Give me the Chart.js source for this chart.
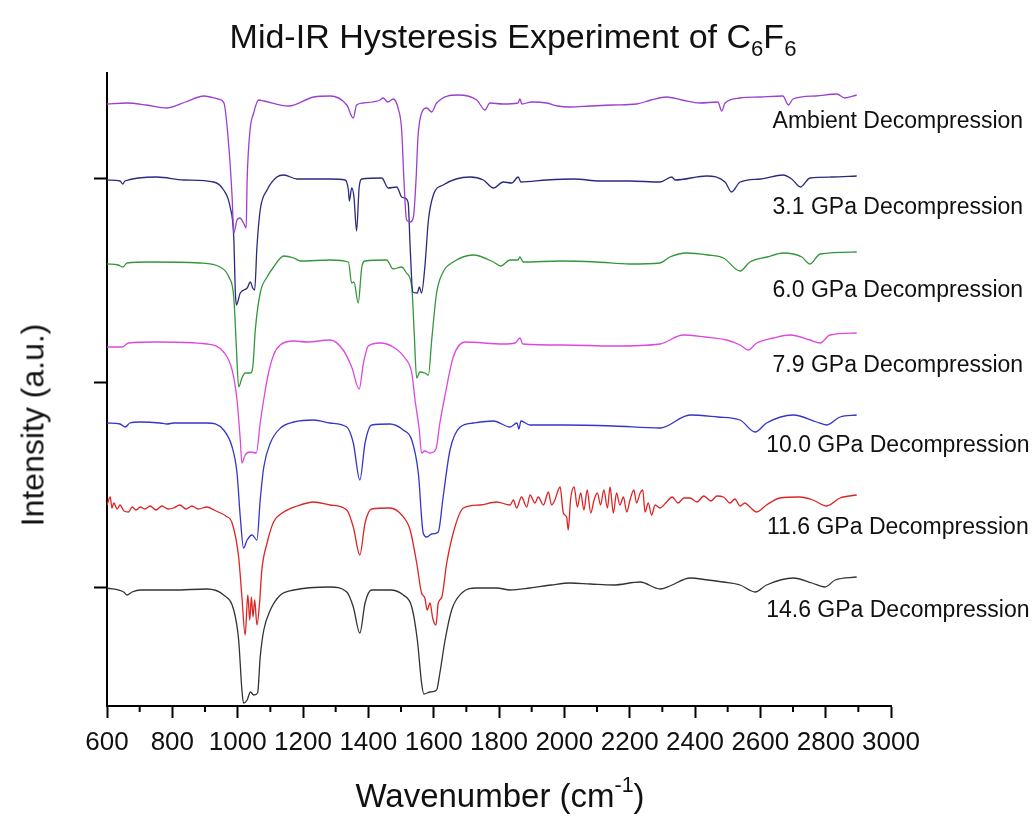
<!DOCTYPE html>
<html>
<head>
<meta charset="utf-8">
<script src="https://cdn.jsdelivr.net/npm/chart.js@4.4.1/dist/chart.umd.min.js"></script>
<style>
  body { margin: 0; background: #fff; }
  #wrap { position: relative; width: 1034px; height: 817px; font-family: 'Liberation Sans', Arial, sans-serif; color: #111; }
  #chart { position: absolute; left: 0; top: 0; }
  .lbl { position: absolute; white-space: nowrap; }
  #title { left: 0; width: 1026px; top: 17px; text-align: center; font-size: 34px; }
  #xtitle { left: 0; width: 1000px; top: 777px; text-align: center; font-size: 33px; }
  #ytitle { left: 33px; top: 425px; font-size: 32px; transform: translate(-50%, -50%) rotate(-90deg); }
  sub { font-size: 65%; vertical-align: -0.35em; line-height: 0; }
  sup { font-size: 65%; vertical-align: 0.7em; line-height: 0; }
</style>
</head>
<body>
<div id="wrap">
  <canvas id="chart" width="1034" height="817"></canvas>
  <div class="lbl" id="title">Mid-IR Hysteresis Experiment of C<sub>6</sub>F<sub>6</sub></div>
  <div class="lbl" id="xtitle">Wavenumber (cm<sup>-1</sup>)</div>
  <div class="lbl" id="ytitle">Intensity (a.u.)</div>
</div>
<script>
//================================ Data (wavenumber cm-1, intensity a.u., spectra stacked) ================

var seriesNames = ['Ambient Decompression', '3.1 GPa Decompression', '6.0 GPa Decompression',
    '7.9 GPa Decompression', '10.0 GPa Decompression', '11.6 GPa Decompression', '14.6 GPa Decompression'];

var ambient = [[600,483],[661,484],[720,482],[784,479],[840,485],[897,491],[940,488],[958,484],[973,440],[983,390],[988,354],[998,367],[1007,369],
    [1018,364],[1026,359],[1029,407],[1038,457],[1049,474],[1064,487],[1080,486],[1156,481],[1233,490],[1283,491],
    [1334,482],[1354,469],[1364,482],[1384,484],[1436,487],[1445,489],[1460,485],[1476,488],[1491,479],[1502,457],
    [1509,407],[1517,367],[1528,365],[1538,370],[1546,407],[1552,450],[1563,474],[1579,479],[1594,475],[1609,484],
    [1675,492],[1732,487],[1757,477],[1772,484],[1812,483],[1858,484],[1864,488],[1870,483],[1900,485],[1946,484],[1980,481],[2017,480],
    [2080,481],[2149,482],[2221,483],[2265,487],[2313,490],[2360,487],[2415,484],[2470,485],[2482,476],[2492,484],[2538,489],[2600,490],[2669,491],[2686,482],
    [2700,488],[2770,491],[2834,493],[2859,489],[2895,492]];

var gpa31 = [[600,407],[640,406],[648,403],[655,406],[753,410],[835,407],[927,405],[957,397],[977,380],[988,350],
    [993,294],[996,282],[1008,294],[1029,299],[1039,305],[1046,299],[1052,297],[1059,340],[1069,377],[1090,397],
    [1120,410],[1141,412],[1182,408],[1283,408],[1329,407],[1339,397],[1342,386],[1349,399],[1356,390],[1364,356],
    [1372,400],[1380,408],[1441,409],[1461,399],[1487,400],[1502,390],[1512,389],[1522,384],[1528,340],[1536,295],
    [1550,294],[1556,300],[1563,294],[1573,320],[1584,367],[1599,392],[1629,402],[1711,410],[1752,407],[1783,399],
    [1813,405],[1839,404],[1859,410],[1867,405],[1946,407],[2030,408],[2109,406],[2200,406],[2293,405],[2329,410],[2339,407],[2436,411],
    [2492,405],[2512,395],[2538,405],[2600,408],[2670,412],[2696,408],[2723,400],[2752,409],[2820,410],[2895,411]];

var gpa60 = [[600,323],[634,322],[649,320],[661,324],[732,325],[885,324],[946,320],[973,310],[988,290],[996,240],
    [1003,200],[1013,209],[1023,214],[1039,214],[1047,222],[1054,257],[1069,294],[1090,310],[1110,320],[1141,331],
    [1172,329],[1192,326],[1283,327],[1339,325],[1349,304],[1356,305],[1369,284],[1380,320],[1390,326],[1456,327],
    [1476,318],[1502,320],[1517,314],[1533,300],[1540,257],[1548,209],[1558,215],[1573,214],[1584,212],[1594,247],
    [1609,294],[1629,315],[1660,325],[1721,332],[1783,325],[1805,321],[1834,327],[1858,327],[1864,330],[1874,325],
    [1990,326],[2099,325],[2200,323],[2293,324],[2323,330],[2375,334],[2440,332],[2487,329],[2538,316],[2568,325],[2620,330],[2670,334],[2727,330],[2752,323],
    [2783,333],[2895,335]];

var gpa79 = [[600,240],[646,240],[666,244],[753,245],[906,243],[957,235],[983,217],[998,187],[1008,147],[1013,124],
    [1023,132],[1039,135],[1057,134],[1069,164],[1082,192],[1093,212],[1110,232],[1130,242],[1172,246],[1212,245],
    [1283,247],[1323,237],[1349,220],[1372,198],[1385,224],[1400,241],[1436,244],[1476,240],[1512,229],[1533,214],
    [1543,187],[1556,157],[1563,134],[1573,136],[1589,134],[1607,138],[1619,164],[1635,192],[1660,230],[1696,245],
    [1813,243],[1849,244],[1864,249],[1873,243],[1997,242],[2150,241],[2293,243],[2364,252],[2430,250],[2497,247],[2538,242],[2563,237],
    [2589,244],[2640,249],[2691,252],[2752,247],[2783,244],[2813,252],[2895,254]];

var gpa100 = [[600,164],[640,163],[656,160],[670,164],[702,165],[762,164],[784,163],[804,164],[906,164],[957,157],
    [983,140],[998,114],[1008,70],[1018,39],[1029,47],[1044,52],[1059,47],[1069,87],[1080,120],[1100,144],
    [1131,159],[1172,165],[1233,167],[1283,164],[1334,160],[1354,144],[1374,107],[1390,144],[1410,162],[1466,163],
    [1507,157],[1533,147],[1553,114],[1568,54],[1579,50],[1594,53],[1614,55],[1629,90],[1650,137],[1681,160],
    [1721,164],[1783,166],[1834,160],[1855,164],[1861,158],[1867,166],[1895,162],[1997,162],[2150,161],[2293,159],[2385,172],
    [2470,170],[2538,167],[2584,155],[2619,164],[2701,172],[2772,165],[2803,162],[2844,170],[2895,172]];

var gpa116 = [[600,82],[610,90],[615,79],[621,84],[631,78],[640,82],[652,76],[666,75],[677,80],[689,77],
    [702,80],[716,78],[732,81],[750,77],[768,81],[787,78],[804,79],[823,82],[842,78],[860,81],
    [879,78],[906,80],[928,77],[947,74],[964,71],[983,64],[1003,30],[1013,-10],[1023,-48],[1031,-8],
    [1037,-33],[1042,-10],[1047,-30],[1052,-13],[1059,-38],[1067,-16],[1074,17],[1090,44],[1110,65],[1141,75],
    [1182,81],[1233,85],[1283,82],[1334,77],[1354,60],[1374,32],[1390,64],[1410,78],[1466,79],[1502,72],
    [1528,57],[1548,24],[1563,-6],[1573,-11],[1580,-23],[1589,-16],[1597,-31],[1607,-38],[1614,-16],[1625,-10],
    [1640,24],[1665,60],[1691,79],[1742,82],[1793,85],[1834,82],[1844,87],[1854,79],[1869,90],[1885,80],
    [1895,92],[1910,84],[1920,90],[1936,82],[1951,95],[1961,82],[1971,87],[1987,100],[1997,74],[2007,70],
    [2012,57],[2019,87],[2030,100],[2040,80],[2050,94],[2060,77],[2070,97],[2081,74],[2091,87],[2101,94],
    [2111,82],[2121,97],[2132,79],[2140,100],[2150,74],[2160,94],[2170,82],[2181,90],[2191,75],[2201,87],
    [2213,97],[2221,84],[2232,94],[2240,97],[2247,75],[2257,84],[2267,72],[2278,82],[2293,79],[2313,85],
    [2330,90],[2348,84],[2366,89],[2385,89],[2406,85],[2427,91],[2449,86],[2467,91],[2487,90],[2507,84],
    [2522,88],[2538,81],[2553,84],[2568,80],[2589,75],[2619,82],[2660,89],[2721,90],[2761,87],[2803,81],
    [2844,89],[2895,92]];

var gpa146 = [[600,-1],[651,-5],[661,-8],[677,-5],[702,-3],[804,-3],[906,-2],[957,-8],[988,-23],[1003,-53],
    [1013,-103],[1018,-116],[1029,-113],[1039,-105],[1049,-108],[1061,-106],[1069,-70],[1080,-43],[1100,-23],[1131,-8],
    [1172,-3],[1283,0],[1334,-5],[1354,-20],[1374,-46],[1390,-16],[1410,-3],[1466,-3],[1507,-8],[1533,-20],
    [1550,-53],[1563,-96],[1570,-107],[1589,-105],[1609,-103],[1619,-86],[1635,-53],[1655,-23],[1686,-6],[1732,-1],
    [1793,-1],[1834,-3],[1895,-1],[1960,2],[2017,4],[2080,3],[2150,2],[2232,5],[2293,-2],[2323,1],[2385,9],[2440,7],[2487,5],
    [2538,2],[2584,-5],[2619,2],[2701,9],[2758,4],[2798,0],[2829,7],[2895,10]];

var spectra = [ambient, gpa31, gpa60, gpa79, gpa100, gpa116, gpa146];
var colors = ['#9B3FD0', '#2A2A7E', '#33963A', '#DD48DD', '#3535CC', '#DD2424', '#333333'];

// label anchors (intensity a.u.) for the curve names at the right
var labelY = [465, 379, 296, 221, 141, 59, -24];
var labelX = 3021;

// y ticks (unlabelled) and axis ranges
var yTicks = [0, 205, 409];
var xMin = 600, xMax = 3000, xStep = 200;
var yMin = -119, yMax = 514;

//================================ Chart ====================================================================

Chart.defaults.font.family = "'Liberation Sans', Arial, sans-serif";
Chart.defaults.color = '#111';

var datasets = spectra.map(function(s, i) {
    return {
        label: seriesNames[i],
        data: s.map(function(p) { return {x: p[0], y: p[1]}; }),
        borderColor: colors[i],
        borderWidth: 1.3,
        pointRadius: 0,
        showLine: true,
        fill: false,
        cubicInterpolationMode: 'monotone'
    };
});

// minor ticks on x + curve names
var extras = {
    id: 'extras',
    afterDraw: function(chart) {
        var ctx = chart.ctx;
        var xs = chart.scales.x, ys = chart.scales.y;
        ctx.save();
        ctx.strokeStyle = '#000';
        ctx.lineWidth = 2;
        for (var v = xMin + xStep / 2; v < xMax; v += xStep) {
            var px = xs.getPixelForValue(v);
            ctx.beginPath();
            ctx.moveTo(px, ys.bottom);
            ctx.lineTo(px, ys.bottom + 6);
            ctx.stroke();
        }
        ctx.fillStyle = '#111';
        ctx.font = "23px 'Liberation Sans', Arial, sans-serif";
        ctx.textAlign = 'center';
        ctx.textBaseline = 'middle';
        for (var i = 0; i < seriesNames.length; i++) {
            ctx.fillText(seriesNames[i], xs.getPixelForValue(labelX), ys.getPixelForValue(labelY[i]));
        }
        ctx.restore();
    }
};

new Chart(document.getElementById('chart').getContext('2d'), {
    type: 'scatter',
    data: { datasets: datasets },
    options: {
        responsive: false,
        animation: false,
        devicePixelRatio: 1,
        layout: { padding: { left: 0, top: 73, right: 143, bottom: 0 } },
        plugins: { legend: { display: false }, tooltip: { enabled: false } },
        scales: {
            x: {
                type: 'linear',
                min: xMin, max: xMax,
                afterFit: function(s) { s.height = 111; },
                ticks: { stepSize: xStep, padding: 9, font: { size: 26 }, color: '#111', maxRotation: 0, autoSkip: false,
                    callback: function(v) { return String(v); } },
                grid: { drawOnChartArea: false, tickLength: 12, tickColor: '#000', tickWidth: 2 },
                border: { display: true, color: '#000', width: 2 }
            },
            y: {
                type: 'linear',
                min: yMin, max: yMax,
                afterFit: function(s) { s.width = 107; },
                afterBuildTicks: function(s) { s.ticks = yTicks.map(function(v) { return {value: v}; }); },
                ticks: { callback: function() { return ''; } },
                grid: { drawOnChartArea: false, tickLength: 13, tickColor: '#000', tickWidth: 2 },
                border: { display: true, color: '#000', width: 2 }
            }
        }
    },
    plugins: [extras]
});
</script>
</body>
</html>
